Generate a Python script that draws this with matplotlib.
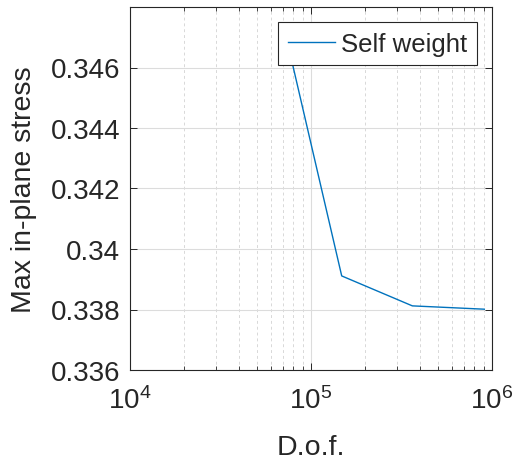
import matplotlib
matplotlib.use("Agg")
import matplotlib.pyplot as plt
from matplotlib.ticker import LogLocator, FixedLocator, FuncFormatter, NullFormatter

plt.rcParams['font.family'] = ['Liberation Sans', 'DejaVu Sans']
plt.rcParams['mathtext.fontset'] = 'custom'
plt.rcParams['mathtext.rm'] = 'Liberation Sans'
plt.rcParams['mathtext.it'] = 'Liberation Sans'

# Mesh refinement study: degrees of freedom vs. peak in-plane stress
dof = [7.3e4, 1.478e5, 3.63e5, 9.07e5]
stress = [0.3470, 0.33911, 0.33812, 0.33801]
series_label = "Self weight"
y_ticks = [0.336, 0.338, 0.340, 0.342, 0.344, 0.346]

text_color = "#262626"
fig = plt.figure(figsize=(5.19, 4.64), dpi=100)
ax = fig.add_axes([130/519, 1 - 371/464, (492-130)/519, (371-8)/464])

ax.plot(dof, stress, color="#0072BD", lw=1.0, label=series_label)
ax.set_xscale("log")
ax.set_xlim(1e4, 1e6)
ax.set_ylim(0.336, 0.348)

ax.xaxis.set_major_locator(LogLocator(base=10, numticks=10))
ax.xaxis.set_minor_locator(LogLocator(base=10, subs=range(2, 10), numticks=30))
ax.xaxis.set_minor_formatter(NullFormatter())
ax.yaxis.set_major_locator(FixedLocator(y_ticks))
ax.yaxis.set_major_formatter(FuncFormatter(lambda v, p: f"{v:g}"))

ax.grid(True, which="major", color="#dcdcdc", lw=0.8, ls="-")
ax.grid(True, which="minor", axis="x", color="#d8d8d8", lw=0.7, ls=(0, (3, 3)))
ax.set_axisbelow(True)

ax.tick_params(which="both", direction="in", top=True, right=True,
               colors=text_color, labelsize=20)
ax.tick_params(which="major", length=5, width=0.7)
ax.tick_params(which="minor", length=3, width=0.6)
ax.tick_params(axis="x", which="major", pad=12)
ax.tick_params(axis="y", which="major", pad=7)
for s in ax.spines.values():
    s.set_color(text_color)
    s.set_linewidth(0.8)

ax.set_xlabel("D.o.f.", fontsize=20.5, color=text_color, labelpad=14)
ax.set_ylabel("Max in-plane stress", fontsize=20.5, color=text_color, labelpad=10)

leg = ax.legend(loc="upper right", fontsize=18.5, fancybox=False, framealpha=1,
                edgecolor=text_color, borderaxespad=0.58, handlelength=1.83,
                handletextpad=0.25, borderpad=0.38)
leg.get_frame().set_linewidth(0.8)
for t in leg.get_texts():
    t.set_color(text_color)

fig.savefig("out.png", dpi=100)
